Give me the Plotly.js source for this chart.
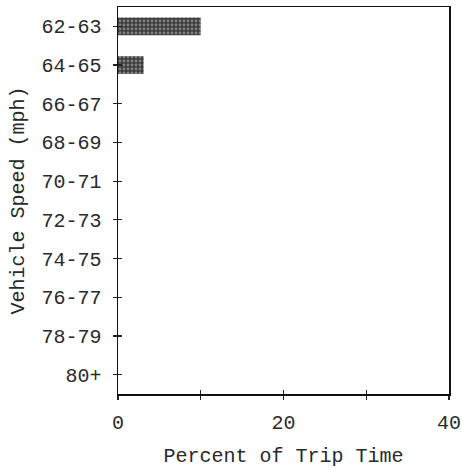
<!DOCTYPE html>
<html>
<head>
<meta charset="utf-8">
<script src="https://cdn.plot.ly/plotly-3.0.1.min.js"></script>
<style>html,body{margin:0;padding:0;background:#fff;}#chart{width:462px;height:468px;}</style>
</head>
<body>
<div id="chart"></div>
<script>
var speedBins = ["62-63","64-65","66-67","68-69","70-71","72-73","74-75","76-77","78-79","80+"];
var percentTripTime = [10.0, 3.1, 0, 0, 0, 0, 0, 0, 0, 0];

var fontFam = "Liberation Mono, Courier New, monospace";
var fs = 20;
var txt = "#2a2a2a";

var trace = {
  type: "bar",
  orientation: "h",
  y: speedBins,
  x: percentTripTime,
  width: 0.46,
  marker: {
    color: "#3a3a3a",
    line: {width: 0},
    pattern: {shape: ".", bgcolor: "#3a3a3a", fgcolor: "#c8c8c8", fillmode: "overlay", size: 4, solidity: 0.4}
  },
  hoverinfo: "skip"
};
var ghost = {
  type: "bar", orientation: "h", y: speedBins, x: percentTripTime,
  xaxis: "x2", yaxis: "y2", marker: {color: "rgba(0,0,0,0)"}, hoverinfo: "skip", showlegend: false
};

var layout = {
  width: 462, height: 468,
  margin: {l: 118, r: 13, t: 7, b: 74},
  paper_bgcolor: "#fff", plot_bgcolor: "#fff",
  showlegend: false,
  font: {family: fontFam, size: fs, color: txt},
  xaxis: {
    range: [0, 40], tickmode: "array",
    tickvals: [0, 10, 20, 30, 40],
    ticktext: ["0", "", "20", "", "40"],
    ticks: "outside", ticklen: 4, tickwidth: 1.2, tickcolor: "#222",
    showline: true, linecolor: "#111", linewidth: 1.5, mirror: true,
    showgrid: false, zeroline: false,
    ticklabelstandoff: 5,
    tickfont: {family: fontFam, size: fs, color: txt},
    title: {text: "Percent of Trip Time", font: {family: fontFam, size: fs, color: txt}, standoff: 14}
  },
  yaxis: {
    type: "category", categoryorder: "array", categoryarray: speedBins,
    autorange: "reversed",
    ticks: "outside", ticklen: 4, tickwidth: 1.2, tickcolor: "#222",
    showline: true, linecolor: "#111", linewidth: 1.5, mirror: true,
    showgrid: false, zeroline: false,
    ticklabelstandoff: 7,
    tickfont: {family: fontFam, size: fs, color: txt},
    title: {text: "Vehicle Speed (mph)", font: {family: fontFam, size: fs, color: txt}, standoff: 11}
  },
  xaxis2: {
    overlaying: "x", range: [0, 40], tickmode: "array", tickvals: [0, 10, 20, 30, 40],
    showticklabels: false, ticks: "inside", ticklen: 4, tickwidth: 1.2, tickcolor: "#222",
    showgrid: false, zeroline: false, showline: false, side: "bottom", anchor: "y2"
  },
  yaxis2: {
    overlaying: "y", type: "category", categoryorder: "array", categoryarray: speedBins,
    autorange: "reversed", showticklabels: false, ticks: "inside", ticklen: 4, tickwidth: 1.2,
    tickcolor: "#222", showgrid: false, zeroline: false, showline: false, anchor: "x2"
  }
};

Plotly.newPlot("chart", [trace, ghost], layout, {staticPlot: true, displayModeBar: false});
</script>
</body>
</html>
